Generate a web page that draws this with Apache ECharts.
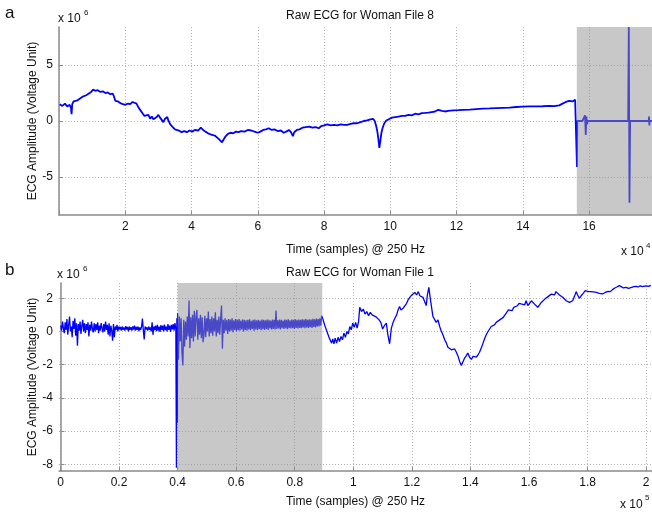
<!DOCTYPE html>
<html>
<head>
<meta charset="utf-8">
<script src="https://cdn.jsdelivr.net/npm/echarts@6.0.0/dist/echarts.min.js"></script>
<style>
  html, body { margin: 0; padding: 0; background: #fff; }
  #chart { width: 652px; height: 513px; }
</style>
</head>
<body>
<div id="chart"></div>
<script>
// panel a: time in 10^4 samples, amplitude in 10^6 units
const topX = [0.02, 0.1, 0.18, 0.25, 0.32, 0.36, 0.38, 0.4, 0.44, 0.5, 0.56, 0.62, 0.7, 0.76, 0.82, 0.9, 0.97, 1.03, 1.1, 1.17,
  1.25, 1.32, 1.4, 1.47, 1.55, 1.62, 1.66, 1.7, 1.78, 1.85, 1.93, 2.0, 2.08, 2.15, 2.22, 2.28, 2.34, 2.4, 2.46, 2.52,
  2.58, 2.64, 2.7, 2.75, 2.8, 2.85, 2.9, 2.95, 3.0, 3.05, 3.1, 3.15, 3.2, 3.27, 3.3, 3.36, 3.42, 3.5, 3.56, 3.62,
  3.7, 3.78, 3.86, 3.94, 4.02, 4.1, 4.2, 4.28, 4.35, 4.42, 4.5, 4.56, 4.62, 4.7, 4.76, 4.82, 4.88, 4.92, 4.96, 5.02,
  5.1, 5.18, 5.26, 5.34, 5.42, 5.5, 5.6, 5.7, 5.8, 5.9, 6.0, 6.08, 6.16, 6.25, 6.33, 6.42, 6.5, 6.6, 6.7, 6.78,
  6.86, 6.94, 7.0, 7.06, 7.1, 7.18, 7.26, 7.35, 7.45, 7.55, 7.65, 7.75, 7.84, 7.92, 8.0, 8.1, 8.2, 8.3, 8.4, 8.5,
  8.6, 8.7, 8.8, 8.9, 9.0, 9.1, 9.2, 9.3, 9.4, 9.48, 9.53, 9.57, 9.61, 9.64, 9.67, 9.7, 9.73, 9.77, 9.82, 9.88,
  9.95, 10.05, 10.15, 10.25, 10.35, 10.45, 10.55, 10.65, 10.75, 10.85, 10.95, 11.05, 11.15, 11.25, 11.35, 11.45, 11.5, 11.56, 11.65, 11.75,
  11.9, 12.05, 12.2, 12.4, 12.6, 12.8, 13.0, 13.2, 13.4, 13.6, 13.8, 14.0, 14.2, 14.4, 14.6, 14.8, 14.95, 15.1, 15.2, 15.3,
  15.4, 15.5, 15.58, 15.63, 15.635, 15.645, 15.8, 15.85, 15.88, 15.9, 15.92, 15.94, 15.96, 16.5, 17.18, 17.2, 17.22, 17.24, 17.8, 17.81,
  17.82, 17.83, 17.9];
const topY = [1.5, 1.35, 1.55, 1.3, 1.45, 1.2, 0.6, 1.5, 1.75, 1.6, 1.85, 1.95, 2.15, 2.05, 2.3, 2.45, 2.6, 2.8, 2.7, 2.75,
  2.6, 2.65, 2.5, 2.55, 2.4, 2.45, 2.2, 1.8, 1.75, 1.6, 1.5, 1.45, 1.55, 1.5, 1.7, 1.6, 1.55, 1.2, 0.95, 0.7,
  0.45, 0.4, 0.55, 0.2, 0.4, 0.15, 0.05, 0.35, 0.55, 0.3, 0.1, -0.1, 0.2, 0.35, 0.05, -0.3, -0.5, -0.75, -0.9, -0.85,
  -1.0, -0.9, -1.0, -0.85, -0.95, -0.8, -0.85, -0.6, -0.8, -0.95, -1.1, -1.0, -1.25, -1.3, -1.45, -1.6, -1.75, -1.9, -1.7, -1.4,
  -1.15, -1.05, -1.1, -0.95, -1.0, -0.9, -0.95, -0.8, -0.85, -0.95, -1.05, -0.95, -0.8, -0.75, -0.65, -0.8, -0.75, -0.9, -0.85, -1.05,
  -0.95, -0.8, -1.0, -1.35, -1.0, -0.8, -0.75, -0.6, -0.55, -0.5, -0.6, -0.55, -0.65, -0.45, -0.4, -0.3, -0.4, -0.35, -0.4, -0.3,
  -0.35, -0.35, -0.25, -0.2, -0.2, -0.1, 0.0, 0.05, 0.15, 0.2, 0.0, -0.4, -0.95, -1.6, -2.4, -1.8, -1.1, -0.6, -0.2, 0.05,
  0.15, 0.3, 0.35, 0.4, 0.45, 0.45, 0.55, 0.5, 0.65, 0.6, 0.7, 0.72, 0.75, 0.8, 0.85, 1.0, 1.1, 0.9, 0.85, 0.9,
  0.95, 0.97, 1.0, 1.02, 1.06, 1.1, 1.12, 1.15, 1.18, 1.2, 1.25, 1.28, 1.3, 1.3, 1.32, 1.35, 1.33, 1.4, 1.55, 1.7,
  1.8, 1.75, 1.9, 1.95, -4.1, 0.0, 0.0, 0.05, 0.5, -1.25, 0.4, -0.3, 0.0, 0.0, 0.0, 8.4, -7.3, 0.0, 0.0, 0.4,
  -0.4, 0.0, 0.0];

// panel b: time in 10^5 samples, amplitude in 10^6 units
const botX = [
  0.001, 0.004, 0.007, 0.010, 0.013, 0.016, 0.019, 0.022, 0.025, 0.028,
  0.031, 0.034, 0.037, 0.040, 0.043, 0.046, 0.049, 0.052, 0.055, 0.058,
  0.061, 0.064, 0.067, 0.070, 0.073, 0.076, 0.079, 0.082, 0.085, 0.088,
  0.091, 0.094, 0.097, 0.100, 0.103, 0.106, 0.109, 0.112, 0.115, 0.118,
  0.121, 0.124, 0.127, 0.130, 0.133, 0.136, 0.139, 0.142, 0.145, 0.148,
  0.151, 0.154, 0.157, 0.160, 0.163, 0.166, 0.169, 0.172, 0.175, 0.178,
  0.181, 0.184, 0.187, 0.190, 0.193, 0.196, 0.199, 0.202, 0.205, 0.208,
  0.211, 0.214, 0.217, 0.220, 0.223, 0.226, 0.229, 0.232, 0.235, 0.238,
  0.241, 0.244, 0.247, 0.250, 0.253, 0.256, 0.259, 0.262, 0.265, 0.268,
  0.271, 0.274, 0.277, 0.280, 0.283, 0.286, 0.289, 0.292, 0.295, 0.298,
  0.301, 0.304, 0.307, 0.310, 0.313, 0.316, 0.319, 0.322, 0.325, 0.328,
  0.331, 0.334, 0.337, 0.340, 0.343, 0.346, 0.349, 0.352, 0.355, 0.358,
  0.361, 0.364, 0.367, 0.370, 0.373, 0.376, 0.379, 0.382, 0.385, 0.388,
  0.391, 0.394, 0.396, 0.3975, 0.399,
  0.400, 0.403, 0.406, 0.409, 0.412, 0.415, 0.418, 0.421, 0.424, 0.427,
  0.430, 0.433, 0.436, 0.439, 0.442, 0.445, 0.448, 0.451, 0.454, 0.457,
  0.460, 0.463, 0.466, 0.469, 0.472, 0.475, 0.478, 0.481, 0.484, 0.487,
  0.490, 0.493, 0.496, 0.499, 0.502, 0.505, 0.508, 0.511, 0.514, 0.517,
  0.520, 0.523, 0.526, 0.529, 0.532, 0.535, 0.538, 0.541, 0.544, 0.547,
  0.550, 0.553, 0.556, 0.559, 0.562, 0.565, 0.568, 0.571, 0.574, 0.577,
  0.580, 0.583, 0.586, 0.589, 0.592, 0.595, 0.598, 0.601, 0.604, 0.607,
  0.610, 0.613, 0.616, 0.619, 0.622, 0.625, 0.628, 0.631, 0.634, 0.637,
  0.640, 0.643, 0.646, 0.649, 0.652, 0.655, 0.658, 0.661, 0.664, 0.667,
  0.670, 0.673, 0.676, 0.679, 0.682, 0.685, 0.688, 0.691, 0.694, 0.697,
  0.700, 0.703, 0.706, 0.709, 0.712, 0.715, 0.718, 0.721, 0.724, 0.727,
  0.730, 0.733, 0.736, 0.739, 0.742, 0.745, 0.748, 0.751, 0.754, 0.757,
  0.760, 0.763, 0.766, 0.769, 0.772, 0.775, 0.778, 0.781, 0.784, 0.787,
  0.790, 0.793, 0.796, 0.799, 0.802, 0.805, 0.808, 0.811, 0.814, 0.817,
  0.820, 0.823, 0.826, 0.829, 0.832, 0.835, 0.838, 0.841, 0.844, 0.847,
  0.850, 0.853, 0.856, 0.859, 0.862, 0.865, 0.868, 0.871, 0.874, 0.877,
  0.880, 0.883, 0.886, 0.889, 0.892,
  0.897, 0.902, 0.906, 0.91, 0.914, 0.918, 0.922, 0.926, 0.93, 0.934, 0.938, 0.943, 0.948, 0.953, 0.958, 0.963, 0.968, 0.973, 0.978, 0.983,
  0.988, 0.993, 0.998, 1.003, 1.008, 1.013, 1.018, 1.022, 1.028, 1.034, 1.04, 1.046, 1.052, 1.058, 1.064, 1.07, 1.076, 1.082, 1.088, 1.094,
  1.1, 1.106, 1.113, 1.118, 1.124, 1.13, 1.136, 1.142, 1.148, 1.153, 1.158, 1.163, 1.17, 1.176, 1.182, 1.187, 1.193, 1.2, 1.205, 1.21,
  1.216, 1.222, 1.227, 1.233, 1.238, 1.244, 1.249, 1.253, 1.258, 1.262, 1.266, 1.272, 1.278, 1.283, 1.289, 1.295, 1.3, 1.306, 1.312, 1.318,
  1.323, 1.329, 1.335, 1.34, 1.346, 1.352, 1.358, 1.363, 1.369, 1.375, 1.38, 1.386, 1.391, 1.397, 1.403, 1.409, 1.415, 1.42, 1.426, 1.431,
  1.437, 1.443, 1.448, 1.454, 1.46, 1.466, 1.471, 1.477, 1.482, 1.488, 1.494, 1.5, 1.506, 1.512, 1.518, 1.524, 1.53, 1.536, 1.542, 1.548,
  1.554, 1.56, 1.566, 1.573, 1.579, 1.585, 1.59, 1.596, 1.602, 1.608, 1.613, 1.619, 1.625, 1.63, 1.636, 1.642, 1.648, 1.654, 1.66, 1.665,
  1.67, 1.676, 1.682, 1.687, 1.692, 1.698, 1.704, 1.71, 1.715, 1.721, 1.727, 1.733, 1.738, 1.743, 1.749, 1.755, 1.761, 1.766, 1.772, 1.778,
  1.785, 1.792, 1.8, 1.81, 1.82, 1.83, 1.84, 1.851, 1.86, 1.87, 1.878, 1.885, 1.893, 1.9, 1.908, 1.915, 1.922, 1.931, 1.94, 1.95,
  1.958, 1.965, 1.972, 1.98, 1.987, 1.993, 2.0, 2.008, 2.016];
const botY = [
  0.35, 0.05, 0.6, 0.2, -0.1, 0.55, 0.1, 0.75, -0.2, 0.4,
  0.9, 0.0, 0.3, -0.35, 0.65, 0.15, 0.8, -0.25, 0.5, -0.85,
  0.45, 0.05, 0.6, -0.15, 0.35, 0.7, 0.0, 0.5, -0.1, 0.45,
  0.1, 0.55, -0.3, 0.4, 0.05, 0.6, 0.15, -0.05, 0.5, 0.0,
  0.45, 0.1, 0.55, -0.1, 0.35, 0.05, 0.5, 0.2, -0.05, 0.45,
  0.0, 0.6, 0.1, 0.4, -0.2, 0.5, -0.3, 0.35, 0.05, -0.55,
  0.45, -0.35, 0.3, 0.1, 0.4, 0.0, 0.3, 0.12, 0.28, 0.05,
  0.3, 0.1, 0.25, 0.05, 0.32, 0.12, 0.28, 0.0, 0.3, 0.1,
  0.26, 0.06, 0.3, 0.12, 0.35, 0.05, 0.28, 0.1, 0.3, 0.02,
  0.25, 0.1, 0.3, 0.78, 0.05, -0.48, 0.3, 0.12, 0.25, 0.05,
  0.3, 0.1, 0.25, 0.0, 0.55, -0.2, 0.3, 0.08, 0.35, 0.02,
  0.4, 0.05, 0.3, -0.02, 0.38, 0.1, 0.35, 0.0, 0.42, 0.08,
  0.3, 0.0, 0.45, 0.1, 0.35, -0.02, 0.4, 0.12, 0.45, 0.05,
  0.5, 0.15, -8.2, 0.8, -5.5,
  1.1, -1.7, 0.9, -0.6, 0.8, -1.3, -2.05, 0.7, -0.9, 0.6,
  -0.5, 0.9, -0.3, 1.86, -1.0, 0.85, -0.4, 1.0, -0.6, 1.25,
  -0.3, 0.9, 1.3, -0.5, 0.8, -0.2, 1.0, -0.4, 0.85, -0.64,
  -0.2, 0.95, -0.35, 0.8, 0.0, 1.2, -0.3, 0.75, -0.1, 0.9,
  -0.25, 0.8, 0.0, 1.15, -0.3, 0.7, -0.1, 0.9, -0.2, 0.75,
  1.56, -1.04, 0.7, -0.1, 0.8, 0.05, 0.7, -0.15, 0.75, 0.0,
  0.72, 0.05, 0.8, -0.05, 0.68, 0.1, 0.75, 0.0, 0.7, 0.08,
  0.75, 0.05, 0.66, 0.12, 0.72, 0.0, 0.7, 0.1, 0.68, 0.05,
  0.7, 0.12, 0.74, 0.08, 0.65, 0.15, 0.7, 0.05, 0.72, 0.12,
  0.68, 0.1, 0.7, 0.15, 0.66, 0.08, 0.72, 0.14, 0.7, 0.1,
  0.68, 0.15, 0.72, 0.1, 0.7, 0.18, 0.66, 0.12, 0.72, 0.15,
  0.7, 0.12, 1.26, 0.15, 0.68, 0.18, 0.72, 0.12, 0.7, 0.2,
  0.66, 0.15, 0.72, 0.2, 0.7, 0.14, 0.74, 0.2, 0.68, 0.18,
  0.72, 0.2, 0.7, 0.16, 0.74, 0.22, 0.7, 0.18, 0.72, 0.22,
  0.7, 0.2, 0.74, 0.24, 0.72, 0.2, 0.75, 0.25, 0.7, 0.22,
  0.74, 0.26, 0.72, 0.22, 0.76, 0.28, 0.74, 0.25, 0.78, 0.3,
  0.75, 0.3, 0.8, 0.35, 0.95,
  0.7, 0.4, 0.5, 0.0, -0.1, -0.4, -0.3, -0.7, -0.45, -0.75, -0.4, -0.7, -0.35, -0.6, -0.3, -0.5, -0.1, -0.35, 0.0, -0.15,
  0.3, 0.1, 0.5, 0.25, 0.55, 0.2, 0.6, 1.46, 1.2, 1.35, 1.05, 1.2, 0.95, 1.15, 1.0, 1.1, 0.9, 1.0, 0.7, 0.55,
  0.15, 0.35, 0.5, -0.2, -0.74, 0.2, 0.55, 0.8, 1.0, 1.3, 1.5, 1.3, 1.4, 1.55, 1.7, 1.9, 2.05, 2.2, 2.1, 2.35,
  2.2, 2.4, 2.15, 2.25, 2.05, 2.1, 1.56, 2.2, 2.66, 2.1, 1.6, 0.9, 1.0, 0.55, 0.7, 0.3, 0.05, -0.2, -0.5, -0.7,
  -0.95, -0.85, -1.1, -1.15, -1.05, -1.25, -1.5, -1.8, -2.04, -1.8, -1.6, -1.45, -1.3, -1.55, -1.68, -1.5, -1.6, -1.54, -1.4, -1.25,
  -1.0, -0.7, -0.45, -0.2, 0.0, 0.1, 0.3, 0.25, 0.4, 0.55, 0.5, 0.7, 0.65, 0.85, 1.0, 1.1, 1.3, 1.35, 1.25, 1.45,
  1.5, 1.55, 1.7, 1.66, 1.75, 1.6, 1.85, 1.56, 1.7, 1.85, 1.86, 1.65, 1.55, 1.46, 1.6, 1.75, 1.85, 1.95, 2.0, 2.1,
  2.16, 2.25, 2.3, 2.2, 2.4, 2.3, 2.2, 2.15, 2.06, 1.95, 1.85, 1.8, 1.75, 1.66, 1.85, 2.1, 2.4, 2.2, 2.0, 2.15,
  2.3, 2.46, 2.42, 2.4, 2.38, 2.35, 2.3, 2.26, 2.35, 2.42, 2.4, 2.52, 2.62, 2.68, 2.76, 2.7, 2.62, 2.66, 2.6, 2.65,
  2.7, 2.72, 2.68, 2.75, 2.7, 2.8, 2.75, 2.72, 2.78];

// shaded spans [start, end] in axis units
const topShade = [15.63, 17.9];
const botShade = [0.4, 0.894];

const topYTicks = [-5, 0, 5];
const botXTicks = [0, 0.2, 0.4, 0.6, 0.8, 1, 1.2, 1.4, 1.6, 1.8, 2];
const botYTicks = [-8, -6, -4, -2, 0, 2];

const FONT = 'Liberation Sans, Arial, sans-serif';
const axisGray = '#8c8c8c';
const gridLine = { show: true, lineStyle: { color: '#b4b4b4', type: [1, 2], width: 1 } };

function xAxisBase(grid) {
  return {
    type: 'value', gridIndex: grid,
    axisLine: { show: true, onZero: false, lineStyle: { color: axisGray, width: 1.5 } },
    axisTick: { show: true, inside: true, length: 4, lineStyle: { color: axisGray } },
    axisLabel: { color: '#111', fontSize: 12, fontFamily: FONT, margin: 6 },
    splitLine: gridLine,
    name: 'Time (samples) @ 250 Hz', nameLocation: 'middle',
    nameTextStyle: { color: '#111', fontSize: 12, fontFamily: FONT }
  };
}
function yAxisBase(grid) {
  return {
    type: 'value', gridIndex: grid,
    axisLine: { show: true, lineStyle: { color: axisGray, width: 1.5 } },
    axisTick: { show: true, inside: true, length: 4, lineStyle: { color: axisGray } },
    axisLabel: { color: '#111', fontSize: 12, fontFamily: FONT, margin: 6 },
    splitLine: gridLine,
    name: 'ECG Amplitude (Voltage Unit)', nameLocation: 'middle', nameGap: 20, nameMoveOverlap: false,
    nameTextStyle: { color: '#111', fontSize: 12, fontFamily: FONT }
  };
}

const chart = echarts.init(document.getElementById('chart'), null, { renderer: 'canvas' });

const xTop = xAxisBase(0);
xTop.min = 0; xTop.max = 17.9; xTop.interval = 2; xTop.nameGap = 29;
xTop.axisLabel.showMaxLabel = false;
xTop.axisLabel.formatter = v => (v === 0 ? '' : String(v));

const xBot = xAxisBase(1);
xBot.min = -0.005; xBot.max = 2.02; xBot.nameGap = 25;
xBot.axisTick.customValues = botXTicks;
xBot.axisLabel.customValues = botXTicks;

const yTop = yAxisBase(0);
yTop.min = -8.4; yTop.max = 8.4;
yTop.axisTick.customValues = topYTicks;
yTop.axisLabel.customValues = topYTicks;

const yBot = yAxisBase(1);
yBot.min = -8.4; yBot.max = 2.92;
yBot.axisTick.customValues = botYTicks;
yBot.axisLabel.customValues = botYTicks;

// translucent gray patch laid over the trace, spanning the full plot height
function shadeSeries(idx, span) {
  return {
    type: 'custom', xAxisIndex: idx, yAxisIndex: idx, z: 10, silent: true,
    data: [span],
    renderItem: function (params, api) {
      const a = api.coord([api.value(0), 0]);
      const b = api.coord([api.value(1), 0]);
      const cs = params.coordSys;
      return {
        type: 'rect',
        shape: { x: a[0], y: cs.y, width: b[0] - a[0], height: cs.height },
        style: { fill: 'rgba(145,145,145,0.5)' }
      };
    }
  };
}

const label = (size, text) => ({ fill: '#111', fontSize: size, fontFamily: FONT, text: text });

chart.setOption({
  animation: false,
  backgroundColor: '#fff',
  title: [
    { text: 'Raw ECG for Woman File 8', left: 355, top: 5, textAlign: 'center',
      textStyle: { fontSize: 12, fontWeight: 'normal', color: '#111', fontFamily: FONT } },
    { text: 'Raw ECG for Woman File 1', left: 355, top: 262, textAlign: 'center',
      textStyle: { fontSize: 12, fontWeight: 'normal', color: '#111', fontFamily: FONT } }
  ],
  grid: [
    { left: 59, top: 27, right: 0, height: 188, outerBoundsMode: 'none' },
    { left: 59, top: 283, right: 0, height: 188, outerBoundsMode: 'none' }
  ],
  xAxis: [xTop, xBot],
  yAxis: [yTop, yBot],
  series: [
    { type: 'line', xAxisIndex: 0, yAxisIndex: 0, showSymbol: false, symbol: 'none', z: 2,
      lineStyle: { color: '#0000ff', width: 1.8 }, data: topX.map((x, i) => [x, topY[i]]) },
    { type: 'line', xAxisIndex: 1, yAxisIndex: 1, showSymbol: false, symbol: 'none', z: 2,
      lineStyle: { color: '#0000ff', width: 1.3 }, data: botX.map((x, i) => [x, botY[i]]) },
    shadeSeries(0, topShade),
    shadeSeries(1, botShade)
  ],
  graphic: [
    { type: 'text', left: 5, top: 5, style: label(17, 'a') },
    { type: 'text', left: 5, top: 262, style: label(17, 'b') },
    { type: 'text', left: 58, top: 13, style: label(12, 'x 10') },
    { type: 'text', left: 84, top: 9, style: label(8, '6') },
    { type: 'text', left: 57, top: 269, style: label(12, 'x 10') },
    { type: 'text', left: 83, top: 265, style: label(8, '6') },
    { type: 'text', left: 621, top: 246, style: label(12, 'x 10') },
    { type: 'text', left: 646, top: 242, style: label(8, '4') },
    { type: 'text', left: 620, top: 499, style: label(12, 'x 10') },
    { type: 'text', left: 645, top: 494, style: label(8, '5') }
  ]
});
</script>
</body>
</html>
